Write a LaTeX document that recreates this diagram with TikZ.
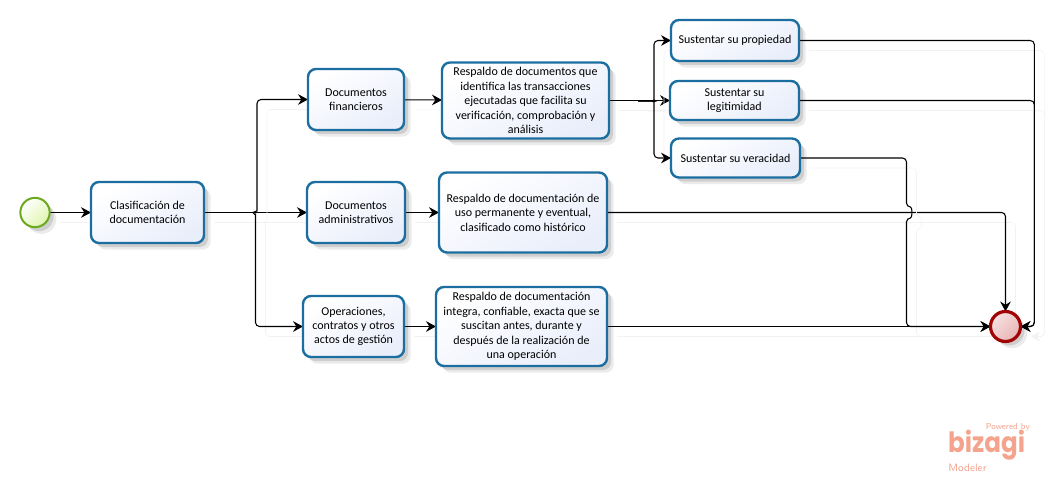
\documentclass[tikz,border=0pt]{standalone}
\usepackage{fontspec}
\setmainfont{Carlito}
\newfontfamily\logofont{Poppins}
\usetikzlibrary{arrows.meta,shadows,backgrounds}
\definecolor{taskblue}{HTML}{1B6E9F}
\definecolor{taskfill}{HTML}{E9EEFB}
\definecolor{startgreen}{HTML}{6BA91F}
\definecolor{startfill}{HTML}{DFF5AE}
\definecolor{enddark}{HTML}{A00404}
\definecolor{endfill}{HTML}{E8B4B4}
\definecolor{logopink}{HTML}{F4A48E}
\tikzset{
	softshadow/.style={drop shadow={shadow xshift=3pt, shadow yshift=-3pt, opacity=.12, fill=black},
		drop shadow={shadow xshift=5pt, shadow yshift=-5pt, opacity=.08, fill=black}},
	taskbox/.style={softshadow, draw=taskblue, line width=1.8pt, rounded corners=6pt, align=center,
		top color=white, bottom color=taskfill, shading angle=30, inner sep=0pt, outer sep=0pt, font=\fontsize{9}{10.8}\selectfont},
	startev/.style={circle, softshadow, draw=startgreen, line width=1.5pt, minimum size=22pt, inner sep=0pt,
		outer sep=0pt, top color=white, bottom color=startfill, shading angle=45},
	endev/.style={circle, softshadow, draw=enddark, line width=2.4pt, minimum size=22.5pt, inner sep=0pt,
		outer sep=0pt, top color=white!60!endfill, bottom color=endfill, shading angle=45},
	flow/.style={line width=.8pt, rounded corners=3pt, -{Stealth[length=7.5pt,width=8pt,inset=2.5pt]},
		preaction={draw=black!5, transform canvas={shift={(7.5pt,-7.5pt)}}}}
}
\begin{document}
\begin{tikzpicture}[x=.75pt, y=-.75pt]
	\useasboundingbox (0,0) rectangle (1054,478);

	\node (start)[startev] at (35,212.5) {};
	\node (clasif)[taskbox, minimum width=84.75pt, minimum height=45.75pt] at (147.5,212.5) {Clasificación de\\documentación};

	\node (docfin)[taskbox, minimum width=72pt, minimum height=45.75pt] at (356,99.5) {Documentos\\financieros};
	\node (docadm)[taskbox, minimum width=73.5pt, minimum height=45.75pt] at (356,212.5) {Documentos\\administrativos};
	\node (oper)[taskbox, minimum width=75.75pt, minimum height=45.75pt] at (353.5,326.5) {Operaciones,\\contratos y otros\\actos de gestión};

	\node (resp1)[taskbox, minimum width=125.25pt, minimum height=57pt] at (525.5,100.5) {Respaldo de documentos que\\identifica las transacciones\\ejecutadas que facilita su\\verificación, comprobación y\\análisis};
	\node (resp2)[taskbox, minimum width=126pt, minimum height=60pt] at (523,212.5) {Respaldo de documentación de\\uso permanente y eventual,\\clasificado como histórico};
	\node (resp3)[taskbox, minimum width=128.25pt, minimum height=59.25pt] at (521.5,326.5) {Respaldo de documentación\\integra, confiable, exacta que se\\suscitan antes, durante y\\después de la realización de\\una operación};

	\node (prop)[taskbox, minimum width=96pt, minimum height=30.75pt] at (735,40.5) {Sustentar su propiedad};
	\node (legit)[taskbox, minimum width=96.75pt, minimum height=29.25pt] at (734.5,100.5) {Sustentar su\\legitimidad};
	\node (verac)[taskbox, minimum width=96.75pt, minimum height=29.25pt] at (735.5,158) {Sustentar su veracidad};

	\node (end)[endev] at (1005.5,326.5) {};

	\coordinate (splitA) at (253,212.5);
	\coordinate (splitB) at (638,101);
	\coordinate (rightbus) at (1034.3,326.5);
	\coordinate (bumptop) at (906.5,207);
	\coordinate (bumpbot) at (906.5,218);
	\coordinate (verbend) at (906.5,326.5);

	\begin{pgfonlayer}{background}
		\draw [flow](start)--(clasif);
		\draw [flow](clasif.east)--(docadm.west);
		\draw [flow](splitA)..controls (255,212.5) and (257,210) ..(257,207) |- (docfin.west);
		\draw [flow](splitA)..controls (254,214) and (255.5,215) ..(255.5,218) |- (oper.west);
		\draw [flow](docfin)--(resp1);
		\draw [flow](docadm)--(resp2);
		\draw [flow](oper)--(resp3);

		\draw [flow](resp1.east)--(legit.west);
		\draw [flow](splitB)--(651,101)..controls (653,101) and (654,99) ..(654,96) |- (prop.west);
		\draw [flow](splitB)--(651,101)..controls (653,101) and (654,102) ..(654,105) |- (verac.west);

		\draw [flow](prop.east) -| (rightbus) -- (end.east);
		\draw [flow](legit.east) -| (rightbus) -- (end.east);
		\draw [flow](resp2.east) -| (end.north);
		\draw [flow](resp3.east)--(end.west);
		\draw [flow](verac.east) -| (bumptop)..controls (912.5,207) and (912.5,218) ..(bumpbot)--(verbend)--(end.west);
	\end{pgfonlayer}

	\node (logoname)[text=logopink, anchor=west, inner sep=0pt, xscale=.88, font=\logofont\bfseries\fontsize{21}{21}\selectfont] at (948,445.5) {bizagi};
	\node (logopower)[text=logopink, anchor=east, inner sep=0pt, font=\sffamily\fontsize{6.5}{7}\selectfont] at (1030,427) {Powered by};
	\node (logomodel)[text=logopink, anchor=west, inner sep=0pt, font=\sffamily\fontsize{8}{9}\selectfont] at (948,468) {Modeler};
\end{tikzpicture}
\end{document}
